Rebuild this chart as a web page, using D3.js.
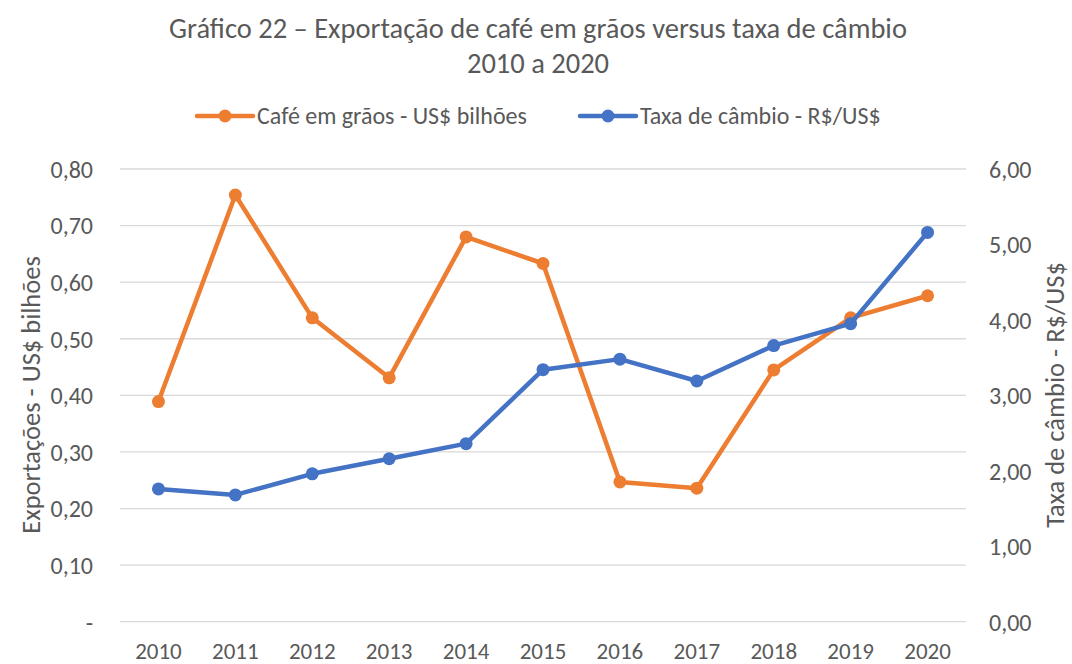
<!DOCTYPE html>
<html><head><meta charset="utf-8">
<script src="https://cdn.jsdelivr.net/npm/d3@7"></script>
<style>
body{margin:0;background:#fff;}
text{font-family:Carlito,Calibri,Lato,"Open Sans",sans-serif;fill:#595959;}
</style></head>
<body><svg id="c" width="1072" height="664"></svg>
<script>
const years = ["2010","2011","2012","2013","2014","2015","2016","2017","2018","2019","2020"];
const cafe = [0.389,0.754,0.537,0.431,0.680,0.633,0.247,0.236,0.445,0.537,0.576];
const cambio = [1.76,1.68,1.96,2.16,2.36,3.34,3.48,3.19,3.66,3.95,5.16];
const leftTicks = [0,0.1,0.2,0.3,0.4,0.5,0.6,0.7,0.8];
const rightTicks = [0,1,2,3,4,5,6];
const titleLines = ["Gráfico 22 – Exportação de café em grãos versus taxa de câmbio","2010 a 2020"];
const seriesNames = ["Café em grãos - US$ bilhões","Taxa de câmbio - R$/US$"];
const colors = ["#ED7D31","#4472C4"];

const svg = d3.select("#c");
const L=120,R=966,T=169,B=621.7;
const x = d3.scaleBand().domain(years).range([L,R]);
const yL = d3.scaleLinear().domain([0,0.8]).range([B,T]);
const yR = d3.scaleLinear().domain([0,6]).range([B,T]);
const fmt = d3.format(".2f");
const br = v => fmt(v).replace(".",",");

// gridlines
svg.append("g").selectAll("line").data(leftTicks).join("line")
  .attr("x1",L).attr("x2",R).attr("y1",d=>yL(d)).attr("y2",d=>yL(d))
  .attr("stroke","#d9d9d9").attr("stroke-width",1.3);

// left axis
const ga = svg.append("g").attr("transform",`translate(${L-27},0)`)
  .call(d3.axisLeft(yL).tickValues(leftTicks).tickSize(0).tickPadding(0).tickFormat(d=>d===0?"-":br(d)));
ga.select(".domain").remove();
ga.selectAll("text").style("font-size","24px").attr("fill","#595959").attr("dy","0.35em");

// right axis
const gb = svg.append("g").attr("transform",`translate(${R+23},0)`)
  .call(d3.axisRight(yR).tickValues(rightTicks).tickSize(0).tickPadding(0).tickFormat(br));
gb.select(".domain").remove();
gb.selectAll("text").style("font-size","24px").attr("fill","#595959").attr("dy","0.35em");

// x axis
const gx = svg.append("g").attr("transform",`translate(0,${B+29})`)
  .call(d3.axisBottom(x).tickSize(0).tickPadding(0));
gx.select(".domain").remove();
gx.selectAll("text").style("font-size","23px").attr("fill","#595959").attr("dy","0.35em");

// axis titles
svg.append("text").attr("transform",`translate(31,395) rotate(-90)`).attr("text-anchor","middle")
  .attr("dy","0.35em").style("font-size","26.5px").text("Exportações - US$ bilhões");
svg.append("text").attr("transform",`translate(1055,395) rotate(-90)`).attr("text-anchor","middle")
  .attr("dy","0.35em").style("font-size","26.5px").text("Taxa de câmbio - R$/US$");

// title
svg.append("text").attr("x",538).attr("y",28).attr("dy","0.35em").attr("text-anchor","middle").style("font-size","28.5px").text(titleLines[0]);
svg.append("text").attr("x",538).attr("y",63).attr("dy","0.35em").attr("text-anchor","middle").style("font-size","28.5px").text(titleLines[1]);

// series
const cx = d => x(d)+x.bandwidth()/2;
const drawSeries = (vals,y,color)=>{
  const line = d3.line().x((d,i)=>cx(years[i])).y(d=>y(d));
  svg.append("path").datum(vals).attr("d",line).attr("fill","none").attr("stroke",color)
    .attr("stroke-width",4.5).attr("stroke-linejoin","round").attr("stroke-linecap","round");
  svg.append("g").selectAll("circle").data(vals).join("circle")
    .attr("cx",(d,i)=>cx(years[i])).attr("cy",d=>y(d)).attr("r",6.5).attr("fill",color);
};
drawSeries(cafe,yL,colors[0]);
drawSeries(cambio,yR,colors[1]);

// legend
const leg = [{x:197,name:seriesNames[0],c:colors[0]},{x:580,name:seriesNames[1],c:colors[1]}];
leg.forEach(l=>{
  const g = svg.append("g");
  g.append("line").attr("x1",l.x).attr("x2",l.x+56).attr("y1",116).attr("y2",116)
    .attr("stroke",l.c).attr("stroke-width",4.5).attr("stroke-linecap","round");
  g.append("circle").attr("cx",l.x+28).attr("cy",116).attr("r",6.5).attr("fill",l.c);
  g.append("text").attr("x",l.x+60).attr("y",116).attr("dy","0.35em").style("font-size","24px").text(l.name);
});
</script></body></html>
